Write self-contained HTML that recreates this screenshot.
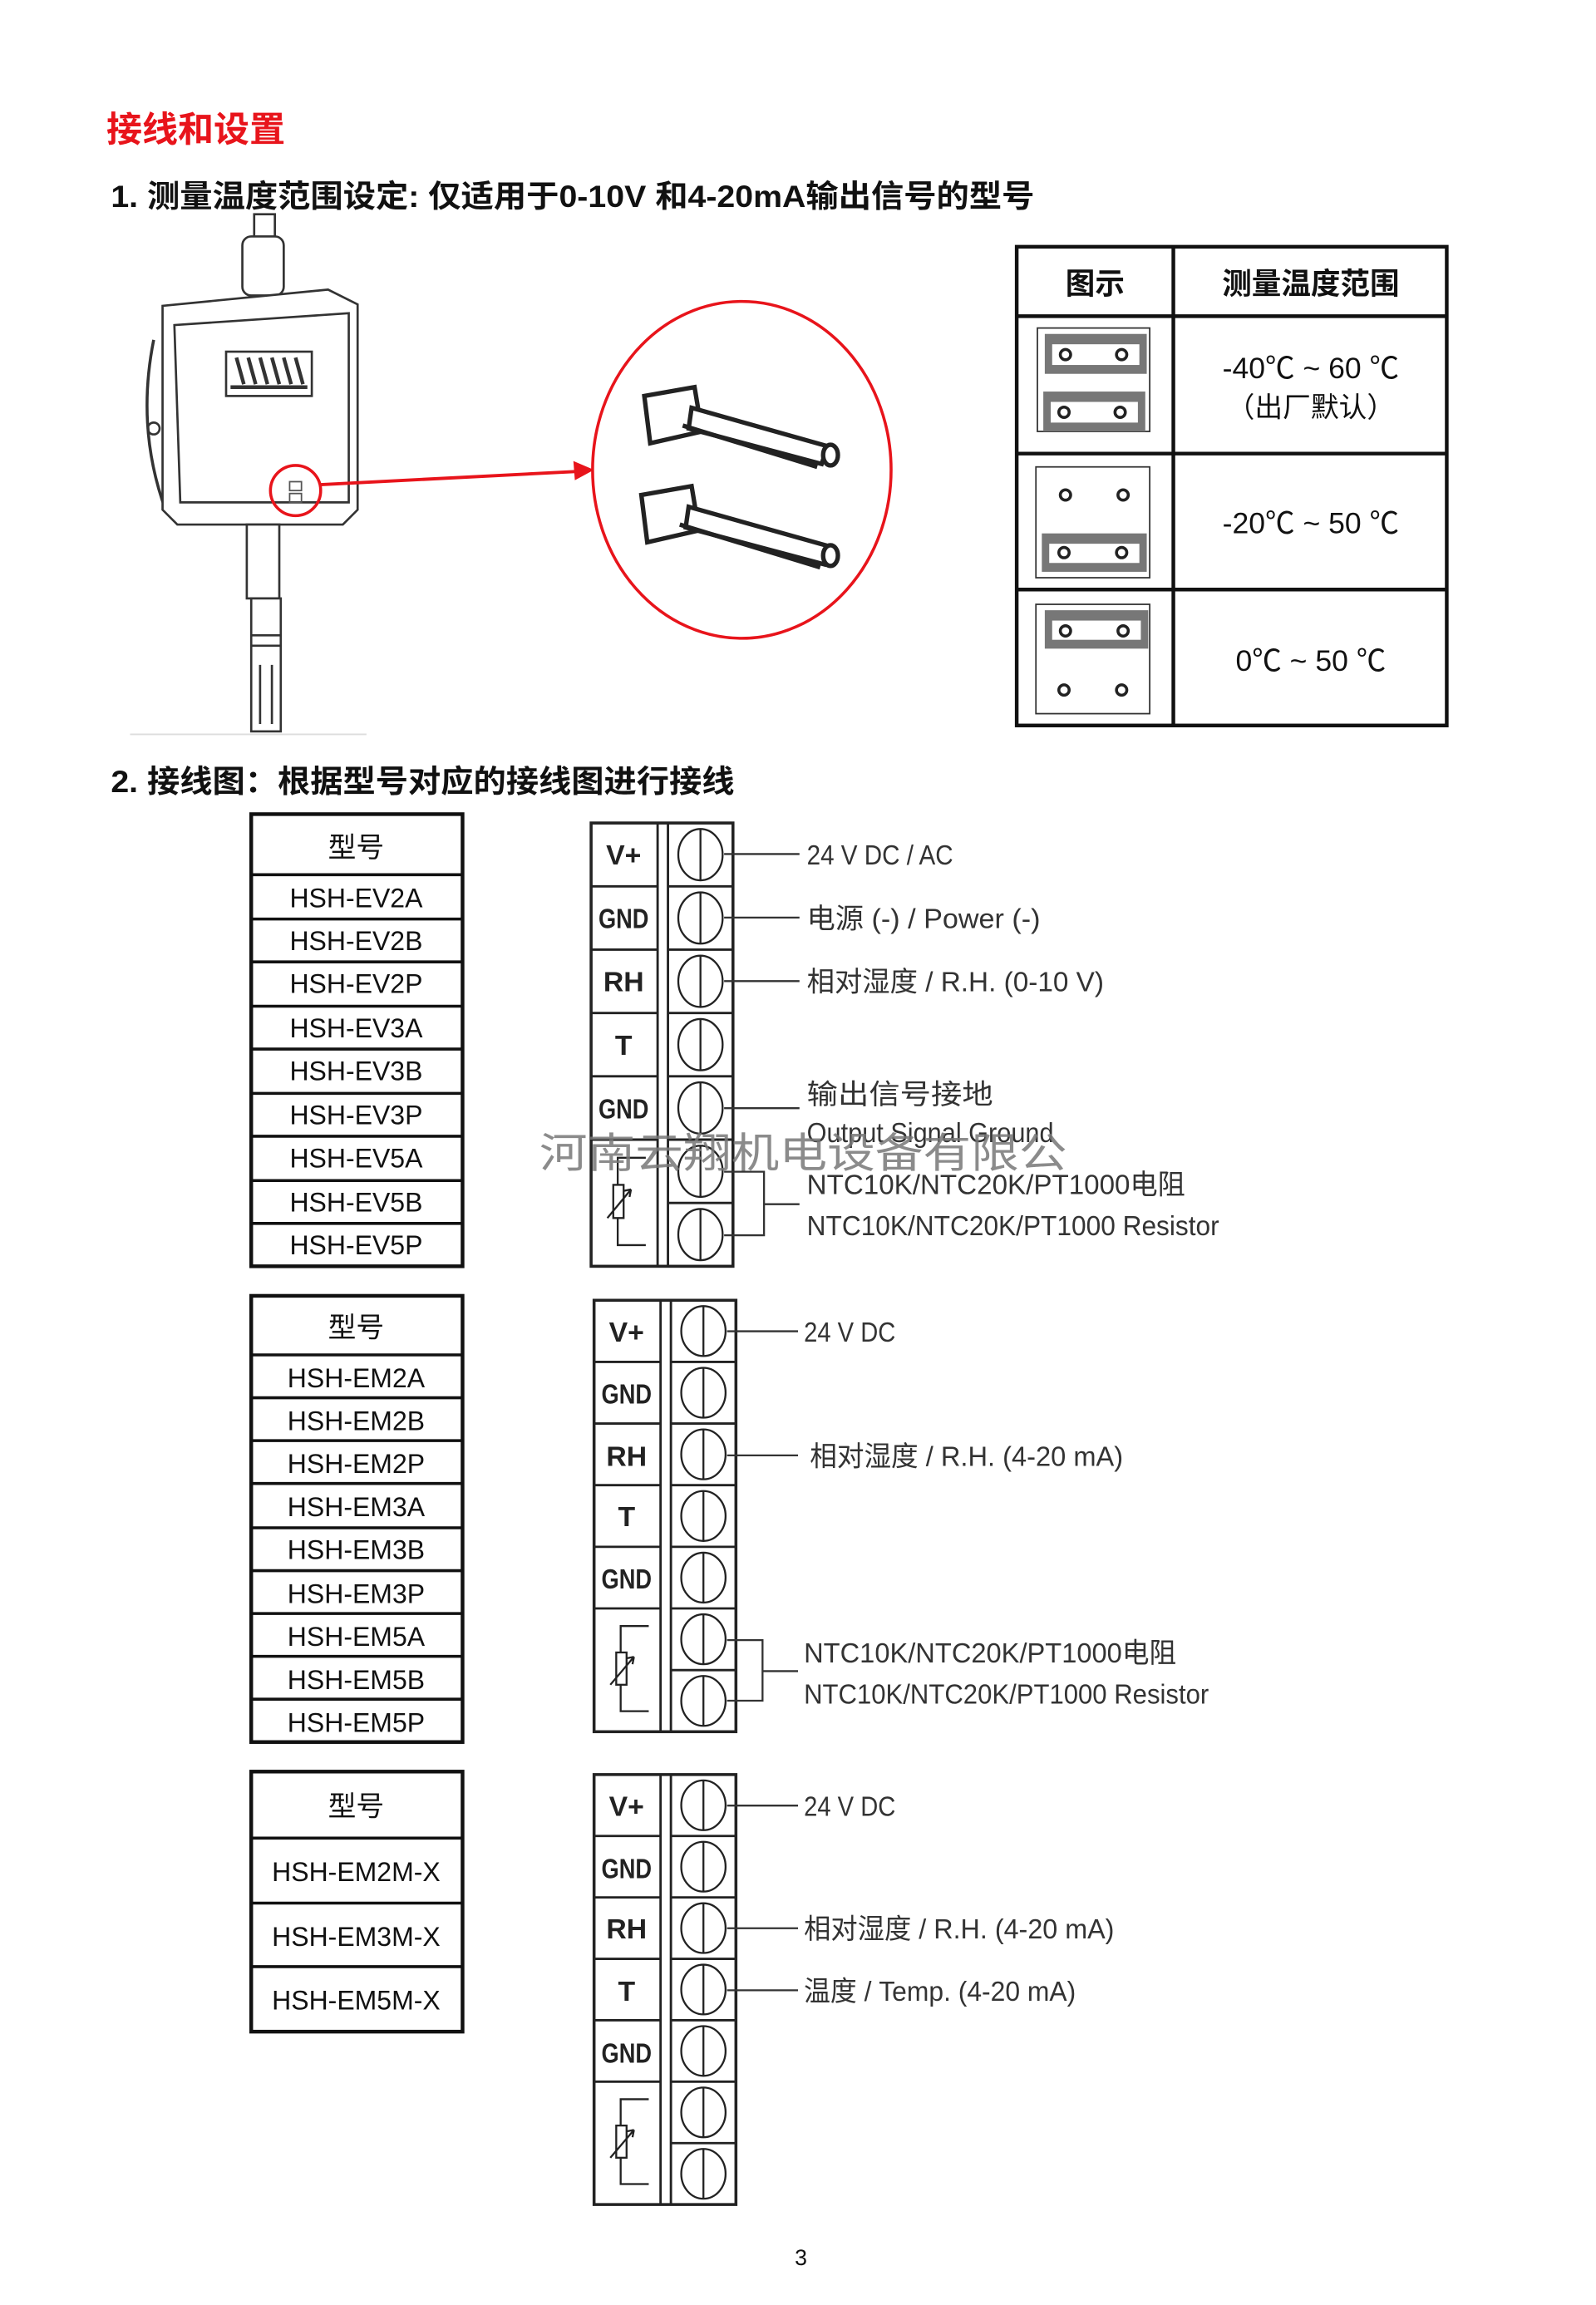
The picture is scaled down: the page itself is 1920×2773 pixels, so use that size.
<!DOCTYPE html>
<html><head><meta charset="utf-8"><style>
html,body{margin:0;padding:0;background:#fff;}
svg{display:block;}
text{font-family:"Liberation Sans","Noto Sans CJK SC",sans-serif;}
.n{font-family:"Liberation Sans Narrow","Liberation Sans","Noto Sans CJK SC",sans-serif;fill:#333;font-size:19px;}
.tl{font-family:"Liberation Sans Narrow","Liberation Sans",sans-serif;font-weight:bold;font-size:19px;fill:#222;}
.m{font-size:18px;fill:#111;}
</style></head><body>
<svg width="1920" height="2773" viewBox="0 0 1080 1560" preserveAspectRatio="none" xmlns="http://www.w3.org/2000/svg">
<defs>
<g id="tb" fill="none" stroke="#222">
<rect x="0" y="0" width="96" height="294" stroke-width="2"/>
<line x1="45" y1="0" x2="45" y2="294" stroke-width="1.6"/>
<line x1="52" y1="0" x2="52" y2="294" stroke-width="1.6"/>
<path d="M52 42H96M52 84H96M52 126H96M52 168H96M52 210H96M52 252H96M0 42H45M0 84H45M0 126H45M0 168H45M0 210H45" stroke-width="1.6"/>
<g stroke-width="1.3">
<ellipse cx="74" cy="21" rx="15" ry="17"/><line x1="74" y1="4" x2="74" y2="38"/>
<ellipse cx="74" cy="63" rx="15" ry="17"/><line x1="74" y1="46" x2="74" y2="80"/>
<ellipse cx="74" cy="105" rx="15" ry="17"/><line x1="74" y1="88" x2="74" y2="122"/>
<ellipse cx="74" cy="147" rx="15" ry="17"/><line x1="74" y1="130" x2="74" y2="164"/>
<ellipse cx="74" cy="189" rx="15" ry="17"/><line x1="74" y1="172" x2="74" y2="206"/>
<ellipse cx="74" cy="231" rx="15" ry="17"/><line x1="74" y1="214" x2="74" y2="248"/>
<ellipse cx="74" cy="273" rx="15" ry="17"/><line x1="74" y1="256" x2="74" y2="290"/>
<path d="M37 222H18V240M18 262V280H37"/>
<rect x="15" y="240" width="7" height="22"/>
<path d="M11 262L27 243M27 243L22 244M27 243L26 248"/>
</g>
</g>
</defs>

<!-- headings -->
<text x="72" y="96" font-size="24" font-weight="bold" fill="#e8141b" textLength="121" lengthAdjust="spacingAndGlyphs">接线和设置</text>
<text x="75" y="140" font-size="21" font-weight="bold" fill="#111" textLength="625" lengthAdjust="spacingAndGlyphs">1. 测量温度范围设定: 仅适用于0-10V 和4-20mA输出信号的型号</text>
<text x="75" y="536" font-size="21" font-weight="bold" fill="#111" textLength="422" lengthAdjust="spacingAndGlyphs">2. 接线图：根据型号对应的接线图进行接线</text>

<!-- device illustration -->
<g fill="none" stroke="#333" stroke-width="1.5">
<rect x="172" y="145" width="14" height="30" fill="#fff"/>
<rect x="164" y="160" width="28" height="40" rx="6" fill="#fff"/>
<path d="M104 230Q92 290 112 345" stroke-width="2"/>
<path d="M110 207L222 196L242 206V345L232 355H120L110 345Z" fill="#fff"/>
<path d="M118 220L236 212V340H122Z"/>
<rect x="153" y="238" width="58" height="30" fill="#fff"/>
<path d="M156 262h52M160 242l5 18M168 242l5 18M176 242l5 18M184 242l5 18M192 242l5 18M200 242l5 18" stroke-width="2.5"/>
<circle cx="104" cy="290" r="4"/>
<rect x="167" y="355" width="22" height="50" fill="#fff"/>
<rect x="170" y="405" width="20" height="90" fill="#fff"/>
<path d="M170 430h20M170 437h20M176 450v40M184 450v40"/>
</g>
<line x1="88" y1="497" x2="248" y2="497" stroke="#ddd"/>
<circle cx="200" cy="332" r="17" fill="none" stroke="#e8141b" stroke-width="2"/>
<rect x="196" y="326" width="8" height="6" fill="none" stroke="#555"/>
<rect x="196" y="334" width="8" height="6" fill="none" stroke="#555"/>
<line x1="217" y1="328" x2="392" y2="319" stroke="#e8141b" stroke-width="2.2"/>
<path d="M402 318L388 312L389 325Z" fill="#e8141b"/>
<ellipse cx="502" cy="318" rx="101" ry="114" fill="none" stroke="#e8141b" stroke-width="2"/>
<g fill="#fff" stroke="#222" stroke-width="3">
<path d="M436 268L470 262L475 292L440 300Z"/>
<path d="M468 276L560 302L556 314L466 290Z"/>
<path d="M462 288L553 316"/>
<path d="M434 335L468 329L473 359L438 367Z"/>
<path d="M466 343L562 370L558 382L464 357Z"/>
<path d="M460 355L555 384"/>
<ellipse cx="562" cy="308" rx="5" ry="7"/>
<ellipse cx="562" cy="376" rx="5" ry="7"/>
</g>

<!-- temperature table -->
<g stroke="#111" stroke-width="2.5" fill="none">
<rect x="688" y="167" width="291" height="324"/>
<line x1="794" y1="167" x2="794" y2="491"/>
<line x1="688" y1="214" x2="979" y2="214"/>
<line x1="688" y1="307" x2="979" y2="307"/>
<line x1="688" y1="399" x2="979" y2="399"/>
</g>
<text x="741" y="199" font-size="20" font-weight="bold" text-anchor="middle" fill="#111">图示</text>
<text x="887" y="199" font-size="20" font-weight="bold" text-anchor="middle" fill="#111">测量温度范围</text>
<text x="887" y="256" font-size="20" text-anchor="middle" fill="#111">-40℃ ~ 60 ℃</text>
<text x="887" y="282" font-size="19" text-anchor="middle" fill="#111">（出厂默认）</text>
<text x="887" y="361" font-size="20" text-anchor="middle" fill="#111">-20℃ ~ 50 ℃</text>
<text x="887" y="454" font-size="20" text-anchor="middle" fill="#111">0℃ ~ 50 ℃</text>
<g stroke="#333" stroke-width="1" fill="#fff">
<rect x="702" y="222" width="76" height="70"/>
<rect x="701" y="316" width="77" height="75"/>
<rect x="701" y="409" width="77" height="74"/>
</g>
<g fill="#777">
<rect x="707" y="226" width="69" height="27"/>
<rect x="706" y="265" width="69" height="27"/>
<rect x="705" y="361" width="71" height="26"/>
<rect x="707" y="413" width="70" height="26"/>
</g>
<g fill="#fff">
<rect x="712" y="233" width="59" height="14"/>
<rect x="711" y="272" width="59" height="14"/>
<rect x="710" y="368" width="61" height="13"/>
<rect x="712" y="420" width="60" height="13"/>
</g>
<g fill="none" stroke="#222" stroke-width="2">
<circle cx="721" cy="240" r="3.5"/><circle cx="759" cy="240" r="3.5"/>
<circle cx="720" cy="279" r="3.5"/><circle cx="758" cy="279" r="3.5"/>
<circle cx="721" cy="335" r="3.5"/><circle cx="760" cy="335" r="3.5"/>
<circle cx="720" cy="374" r="3.5"/><circle cx="759" cy="374" r="3.5"/>
<circle cx="721" cy="427" r="3.5"/><circle cx="760" cy="427" r="3.5"/>
<circle cx="720" cy="467" r="3.5"/><circle cx="759" cy="467" r="3.5"/>
</g>

<!-- model tables -->
<g stroke="#111" fill="none">
<rect x="170" y="551" width="143" height="306" stroke-width="2.5"/>
<path d="M170 592H313M170 622H313M170 651H313M170 681H313M170 710H313M170 740H313M170 769H313M170 799H313M170 828H313" stroke-width="2"/>
<rect x="170" y="877" width="143" height="302" stroke-width="2.5"/>
<path d="M170 917H313M170 946H313M170 975H313M170 1004H313M170 1034H313M170 1063H313M170 1092H313M170 1121H313M170 1150H313" stroke-width="2"/>
<rect x="170" y="1199" width="143" height="176" stroke-width="2.5"/>
<path d="M170 1244H313M170 1288H313M170 1331H313" stroke-width="2"/>
</g>
<g class="m" text-anchor="middle">
<text x="241" y="580" font-size="19">型号</text>
<text x="241" y="614">HSH-EV2A</text>
<text x="241" y="643">HSH-EV2B</text>
<text x="241" y="672">HSH-EV2P</text>
<text x="241" y="702">HSH-EV3A</text>
<text x="241" y="731">HSH-EV3B</text>
<text x="241" y="761">HSH-EV3P</text>
<text x="241" y="790">HSH-EV5A</text>
<text x="241" y="820">HSH-EV5B</text>
<text x="241" y="849">HSH-EV5P</text>
<text x="241" y="905" font-size="19">型号</text>
<text x="241" y="939">HSH-EM2A</text>
<text x="241" y="968">HSH-EM2B</text>
<text x="241" y="997">HSH-EM2P</text>
<text x="241" y="1026">HSH-EM3A</text>
<text x="241" y="1055">HSH-EM3B</text>
<text x="241" y="1085">HSH-EM3P</text>
<text x="241" y="1114">HSH-EM5A</text>
<text x="241" y="1143">HSH-EM5B</text>
<text x="241" y="1172">HSH-EM5P</text>
<text x="241" y="1229" font-size="19">型号</text>
<text x="241" y="1273">HSH-EM2M-X</text>
<text x="241" y="1317">HSH-EM3M-X</text>
<text x="241" y="1360">HSH-EM5M-X</text>
</g>

<!-- terminal blocks -->
<use href="#tb" transform="translate(400,557) scale(1,1.0204)"/>
<use href="#tb" transform="translate(402,880) scale(1,0.9932)"/>
<use href="#tb" transform="translate(402,1201) scale(1,0.9898)"/>
<g class="tl" text-anchor="middle">
<text x="422" y="585">V+</text><text x="422" y="628" textLength="34" lengthAdjust="spacingAndGlyphs">GND</text><text x="422" y="671">RH</text><text x="422" y="714">T</text><text x="422" y="757" textLength="34" lengthAdjust="spacingAndGlyphs">GND</text>
<text x="424" y="908">V+</text><text x="424" y="950" textLength="34" lengthAdjust="spacingAndGlyphs">GND</text><text x="424" y="992">RH</text><text x="424" y="1033">T</text><text x="424" y="1075" textLength="34" lengthAdjust="spacingAndGlyphs">GND</text>
<text x="424" y="1229">V+</text><text x="424" y="1271" textLength="34" lengthAdjust="spacingAndGlyphs">GND</text><text x="424" y="1312">RH</text><text x="424" y="1354">T</text><text x="424" y="1396" textLength="34" lengthAdjust="spacingAndGlyphs">GND</text>
</g>
<g stroke="#333" stroke-width="1.3" fill="none">
<path d="M490 578H541M490 621H541M490 664H541M490 750H541"/>
<path d="M490 793H517V836H490M517 815H541"/>
<path d="M492 901H540M492 985H540"/>
<path d="M492 1110H516V1151H492M516 1131H540"/>
<path d="M492 1222H540M492 1305H540M492 1347H540"/>
</g>
<g class="n" lengthAdjust="spacingAndGlyphs">
<text x="546" y="585" textLength="99" lengthAdjust="spacingAndGlyphs">24 V DC / AC</text>
<text x="546" y="628" textLength="158" lengthAdjust="spacingAndGlyphs">电源 (-)  /  Power (-)</text>
<text x="546" y="671" textLength="201" lengthAdjust="spacingAndGlyphs">相对湿度 / R.H. (0-10 V)</text>
<text x="546" y="747" textLength="126" lengthAdjust="spacingAndGlyphs">输出信号接地</text>
<text x="546" y="773" textLength="167" lengthAdjust="spacingAndGlyphs">Output Signal Ground</text>
<text x="546" y="808" textLength="256" lengthAdjust="spacingAndGlyphs">NTC10K/NTC20K/PT1000电阻</text>
<text x="546" y="836" textLength="279" lengthAdjust="spacingAndGlyphs">NTC10K/NTC20K/PT1000 Resistor</text>
<text x="544" y="908" textLength="62" lengthAdjust="spacingAndGlyphs">24 V DC</text>
<text x="548" y="992" textLength="212" lengthAdjust="spacingAndGlyphs">相对湿度 / R.H. (4-20 mA)</text>
<text x="544" y="1125" textLength="252" lengthAdjust="spacingAndGlyphs">NTC10K/NTC20K/PT1000电阻</text>
<text x="544" y="1153" textLength="274" lengthAdjust="spacingAndGlyphs">NTC10K/NTC20K/PT1000 Resistor</text>
<text x="544" y="1229" textLength="62" lengthAdjust="spacingAndGlyphs">24 V DC</text>
<text x="544" y="1312" textLength="210" lengthAdjust="spacingAndGlyphs">相对湿度 / R.H. (4-20 mA)</text>
<text x="544" y="1354" textLength="184" lengthAdjust="spacingAndGlyphs">温度 / Temp. (4-20 mA)</text>
</g>
<text x="365" y="790" font-size="28" fill="#777" fill-opacity="0.85" textLength="357" lengthAdjust="spacingAndGlyphs">河南云翔机电设备有限公</text>
<text x="542" y="1533" font-size="15" text-anchor="middle" fill="#111">3</text>
</svg>
</body></html>
